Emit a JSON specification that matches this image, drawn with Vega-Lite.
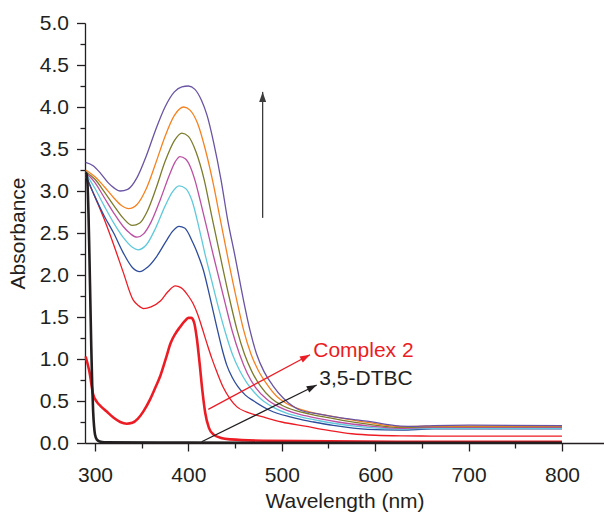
{
"$schema": "https://vega.github.io/schema/vega-lite/v6.json",
"width": 519, "height": 420,
"autosize": {"type": "none"},
"padding": {"left": 85, "top": 23, "right": 0, "bottom": 70},
"background": "white",
"config": {"view": {"stroke": null}, "font": "Liberation Sans",
 "axis": {"grid": false, "domainColor": "#231f20", "tickColor": "#231f20", "labelColor": "#231f20", "titleColor": "#231f20", "labelFont": "Liberation Sans", "titleFont": "Liberation Sans", "labelFontSize": 21, "titleFontSize": 21, "titleFontWeight": "normal", "domainWidth": 1.3, "tickWidth": 1.3, "labelOverlap": false, "labelFlush": false}},
"datasets": {
"thin": [
{"s":"R1","x":290,"y":3.17},{"s":"R1","x":300,"y":2.93},{"s":"R1","x":310,"y":2.66},{"s":"R1","x":320,"y":2.36},{"s":"R1","x":330,"y":2.04},{"s":"R1","x":341,"y":1.70},{"s":"R1","x":346,"y":1.64},{"s":"R1","x":352,"y":1.60},{"s":"R1","x":360,"y":1.62},{"s":"R1","x":370,"y":1.69},{"s":"R1","x":378,"y":1.80},{"s":"R1","x":386,"y":1.87},{"s":"R1","x":392,"y":1.85},{"s":"R1","x":400,"y":1.75},{"s":"R1","x":405,"y":1.66},{"s":"R1","x":410,"y":1.53},{"s":"R1","x":415,"y":1.36},{"s":"R1","x":420,"y":1.18},{"s":"R1","x":425,"y":1.01},{"s":"R1","x":430,"y":0.86},{"s":"R1","x":437,"y":0.67},{"s":"R1","x":445,"y":0.52},{"s":"R1","x":452,"y":0.43},{"s":"R1","x":462,"y":0.37},{"s":"R1","x":480,"y":0.31},{"s":"R1","x":500,"y":0.25},{"s":"R1","x":525,"y":0.20},{"s":"R1","x":550,"y":0.15},{"s":"R1","x":575,"y":0.11},{"s":"R1","x":600,"y":0.092},{"s":"R1","x":630,"y":0.085},{"s":"R1","x":660,"y":0.083},{"s":"R1","x":800,"y":0.083},
{"s":"B","x":290,"y":3.20},{"s":"B","x":300,"y":2.93},{"s":"B","x":310,"y":2.70},{"s":"B","x":320,"y":2.50},{"s":"B","x":330,"y":2.27},{"s":"B","x":340,"y":2.09},{"s":"B","x":348,"y":2.04},{"s":"B","x":356,"y":2.09},{"s":"B","x":366,"y":2.22},{"s":"B","x":376,"y":2.40},{"s":"B","x":383,"y":2.52},{"s":"B","x":390,"y":2.58},{"s":"B","x":396,"y":2.56},{"s":"B","x":405,"y":2.38},{"s":"B","x":410,"y":2.25},{"s":"B","x":416,"y":2.06},{"s":"B","x":423,"y":1.74},{"s":"B","x":430,"y":1.40},{"s":"B","x":437,"y":1.08},{"s":"B","x":441,"y":0.93},{"s":"B","x":447,"y":0.78},{"s":"B","x":453,"y":0.67},{"s":"B","x":461,"y":0.57},{"s":"B","x":470,"y":0.50},{"s":"B","x":487,"y":0.39},{"s":"B","x":509,"y":0.31},{"s":"B","x":520,"y":0.28},{"s":"B","x":534,"y":0.25},{"s":"B","x":555,"y":0.21},{"s":"B","x":592,"y":0.163},{"s":"B","x":627,"y":0.155},{"s":"B","x":662,"y":0.167},{"s":"B","x":800,"y":0.167},
{"s":"C","x":290,"y":3.21},{"s":"C","x":300,"y":3.03},{"s":"C","x":310,"y":2.82},{"s":"C","x":320,"y":2.62},{"s":"C","x":330,"y":2.45},{"s":"C","x":340,"y":2.33},{"s":"C","x":346,"y":2.30},{"s":"C","x":355,"y":2.36},{"s":"C","x":365,"y":2.56},{"s":"C","x":375,"y":2.82},{"s":"C","x":383,"y":2.99},{"s":"C","x":390,"y":3.06},{"s":"C","x":397,"y":3.03},{"s":"C","x":404,"y":2.88},{"s":"C","x":411,"y":2.58},{"s":"C","x":418,"y":2.24},{"s":"C","x":425,"y":1.93},{"s":"C","x":432,"y":1.62},{"s":"C","x":440,"y":1.30},{"s":"C","x":447,"y":1.06},{"s":"C","x":455,"y":0.86},{"s":"C","x":463,"y":0.71},{"s":"C","x":470,"y":0.61},{"s":"C","x":478,"y":0.52},{"s":"C","x":490,"y":0.43},{"s":"C","x":505,"y":0.355},{"s":"C","x":520,"y":0.31},{"s":"C","x":540,"y":0.265},{"s":"C","x":555,"y":0.235},{"s":"C","x":592,"y":0.185},{"s":"C","x":627,"y":0.165},{"s":"C","x":662,"y":0.175},{"s":"C","x":800,"y":0.175},
{"s":"M","x":290,"y":3.22},{"s":"M","x":300,"y":3.10},{"s":"M","x":310,"y":2.92},{"s":"M","x":320,"y":2.74},{"s":"M","x":330,"y":2.58},{"s":"M","x":338,"y":2.49},{"s":"M","x":345,"y":2.45},{"s":"M","x":352,"y":2.49},{"s":"M","x":360,"y":2.63},{"s":"M","x":370,"y":2.90},{"s":"M","x":380,"y":3.20},{"s":"M","x":386,"y":3.35},{"s":"M","x":391,"y":3.41},{"s":"M","x":397,"y":3.38},{"s":"M","x":402,"y":3.29},{"s":"M","x":407,"y":3.13},{"s":"M","x":413,"y":2.87},{"s":"M","x":420,"y":2.55},{"s":"M","x":427,"y":2.22},{"s":"M","x":433,"y":1.95},{"s":"M","x":439,"y":1.68},{"s":"M","x":447,"y":1.33},{"s":"M","x":455,"y":1.05},{"s":"M","x":463,"y":0.83},{"s":"M","x":472,"y":0.66},{"s":"M","x":484,"y":0.52},{"s":"M","x":497,"y":0.43},{"s":"M","x":510,"y":0.37},{"s":"M","x":525,"y":0.325},{"s":"M","x":540,"y":0.29},{"s":"M","x":560,"y":0.25},{"s":"M","x":592,"y":0.205},{"s":"M","x":627,"y":0.175},{"s":"M","x":662,"y":0.185},{"s":"M","x":800,"y":0.185},
{"s":"O","x":290,"y":3.23},{"s":"O","x":300,"y":3.14},{"s":"O","x":310,"y":2.99},{"s":"O","x":320,"y":2.83},{"s":"O","x":330,"y":2.68},{"s":"O","x":340,"y":2.59},{"s":"O","x":348,"y":2.62},{"s":"O","x":356,"y":2.76},{"s":"O","x":365,"y":3.02},{"s":"O","x":375,"y":3.35},{"s":"O","x":385,"y":3.60},{"s":"O","x":393,"y":3.69},{"s":"O","x":400,"y":3.65},{"s":"O","x":408,"y":3.47},{"s":"O","x":417,"y":3.13},{"s":"O","x":425,"y":2.70},{"s":"O","x":434,"y":2.23},{"s":"O","x":444,"y":1.72},{"s":"O","x":452,"y":1.35},{"s":"O","x":460,"y":1.06},{"s":"O","x":468,"y":0.85},{"s":"O","x":477,"y":0.68},{"s":"O","x":489,"y":0.53},{"s":"O","x":500,"y":0.45},{"s":"O","x":515,"y":0.385},{"s":"O","x":530,"y":0.345},{"s":"O","x":545,"y":0.31},{"s":"O","x":565,"y":0.27},{"s":"O","x":592,"y":0.225},{"s":"O","x":627,"y":0.185},{"s":"O","x":662,"y":0.195},{"s":"O","x":800,"y":0.195},
{"s":"Or","x":290,"y":3.25},{"s":"Or","x":300,"y":3.17},{"s":"Or","x":310,"y":3.05},{"s":"Or","x":320,"y":2.92},{"s":"Or","x":328,"y":2.83},{"s":"Or","x":336,"y":2.79},{"s":"Or","x":345,"y":2.84},{"s":"Or","x":355,"y":3.03},{"s":"Or","x":365,"y":3.33},{"s":"Or","x":375,"y":3.65},{"s":"Or","x":385,"y":3.90},{"s":"Or","x":395,"y":4.00},{"s":"Or","x":402,"y":3.96},{"s":"Or","x":410,"y":3.80},{"s":"Or","x":418,"y":3.50},{"s":"Or","x":426,"y":3.12},{"s":"Or","x":434,"y":2.67},{"s":"Or","x":442,"y":2.22},{"s":"Or","x":452,"y":1.69},{"s":"Or","x":459,"y":1.35},{"s":"Or","x":467,"y":1.06},{"s":"Or","x":475,"y":0.86},{"s":"Or","x":484,"y":0.70},{"s":"Or","x":495,"y":0.55},{"s":"Or","x":505,"y":0.47},{"s":"Or","x":520,"y":0.40},{"s":"Or","x":535,"y":0.355},{"s":"Or","x":550,"y":0.325},{"s":"Or","x":570,"y":0.285},{"s":"Or","x":592,"y":0.245},{"s":"Or","x":627,"y":0.195},{"s":"Or","x":662,"y":0.20},{"s":"Or","x":800,"y":0.20},
{"s":"P","x":290,"y":3.34},{"s":"P","x":298,"y":3.30},{"s":"P","x":306,"y":3.21},{"s":"P","x":314,"y":3.10},{"s":"P","x":320,"y":3.04},{"s":"P","x":327,"y":3.00},{"s":"P","x":335,"y":3.02},{"s":"P","x":345,"y":3.16},{"s":"P","x":355,"y":3.42},{"s":"P","x":365,"y":3.73},{"s":"P","x":375,"y":4.00},{"s":"P","x":385,"y":4.18},{"s":"P","x":393,"y":4.24},{"s":"P","x":400,"y":4.25},{"s":"P","x":407,"y":4.21},{"s":"P","x":414,"y":4.08},{"s":"P","x":420,"y":3.90},{"s":"P","x":427,"y":3.58},{"s":"P","x":435,"y":3.13},{"s":"P","x":442,"y":2.66},{"s":"P","x":450,"y":2.22},{"s":"P","x":459,"y":1.70},{"s":"P","x":466,"y":1.34},{"s":"P","x":473,"y":1.06},{"s":"P","x":481,"y":0.85},{"s":"P","x":490,"y":0.69},{"s":"P","x":502,"y":0.53},{"s":"P","x":520,"y":0.39},{"s":"P","x":540,"y":0.345},{"s":"P","x":560,"y":0.305},{"s":"P","x":580,"y":0.275},{"s":"P","x":595,"y":0.255},{"s":"P","x":610,"y":0.225},{"s":"P","x":627,"y":0.20},{"s":"P","x":645,"y":0.198},{"s":"P","x":662,"y":0.208},{"s":"P","x":700,"y":0.212},{"s":"P","x":800,"y":0.208}
],
"thick": [
{"s":"CX","x":290,"y":1.03},{"s":"CX","x":294,"y":0.85},{"s":"CX","x":298,"y":0.58},{"s":"CX","x":302,"y":0.49},{"s":"CX","x":306,"y":0.44},{"s":"CX","x":312,"y":0.38},{"s":"CX","x":320,"y":0.30},{"s":"CX","x":327,"y":0.25},{"s":"CX","x":334,"y":0.23},{"s":"CX","x":340,"y":0.24},{"s":"CX","x":346,"y":0.29},{"s":"CX","x":352,"y":0.38},{"s":"CX","x":359,"y":0.52},{"s":"CX","x":365,"y":0.67},{"s":"CX","x":370,"y":0.80},{"s":"CX","x":376,"y":1.01},{"s":"CX","x":381,"y":1.19},{"s":"CX","x":386,"y":1.30},{"s":"CX","x":391,"y":1.38},{"s":"CX","x":396,"y":1.45},{"s":"CX","x":400,"y":1.49},{"s":"CX","x":403,"y":1.49},{"s":"CX","x":406,"y":1.44},{"s":"CX","x":409,"y":1.25},{"s":"CX","x":412,"y":0.95},{"s":"CX","x":415,"y":0.62},{"s":"CX","x":418,"y":0.36},{"s":"CX","x":422,"y":0.18},{"s":"CX","x":427,"y":0.10},{"s":"CX","x":435,"y":0.06},{"s":"CX","x":445,"y":0.043},{"s":"CX","x":480,"y":0.027},{"s":"CX","x":550,"y":0.02},{"s":"CX","x":650,"y":0.015},{"s":"CX","x":800,"y":0.015},
{"s":"DT","x":290,"y":3.22},{"s":"DT","x":291,"y":3.2},{"s":"DT","x":292,"y":3.08},{"s":"DT","x":293,"y":2.75},{"s":"DT","x":294,"y":2.25},{"s":"DT","x":295,"y":1.7},{"s":"DT","x":296,"y":1.15},{"s":"DT","x":297,"y":0.7},{"s":"DT","x":298,"y":0.38},{"s":"DT","x":299,"y":0.2},{"s":"DT","x":300,"y":0.1},{"s":"DT","x":302,"y":0.04},{"s":"DT","x":305,"y":0.018},{"s":"DT","x":310,"y":0.008},{"s":"DT","x":400,"y":0.004},{"s":"DT","x":800,"y":0.003}
],
"arrows": [
{"k":"up","x":479.5,"y":2.68,"x2":479.5,"y2":4.18},
{"k":"cx","x":421.3,"y":0.40,"x2":530.2,"y2":1.05},
{"k":"dt","x":414.2,"y":0.015,"x2":537.4,"y2":0.69}
],
"labels": [
{"k":"cx","x":533.7,"y":1.02,"label":"Complex 2"},
{"k":"dt","x":540.2,"y":0.69,"label":"3,5-DTBC"}
]
},
"layer": [
{"data": {"name": "arrows"},
 "mark": {"type": "point", "opacity": 0},
 "encoding": {
  "x": {"field": "x", "type": "quantitative", "scale": {"domain": [289.3, 845], "nice": false, "zero": false},
   "axis": {"orient": "bottom", "values": [350,450,550,650,750], "labels": false, "domain": false, "ticks": true, "tickSize": 5, "tickColor": "#231f20", "tickWidth": 1.3, "title": null}},
  "y": {"field": "y", "type": "quantitative", "scale": {"domain": [0, 5], "nice": false, "zero": false},
   "axis": {"orient": "left", "values": [0.25,0.75,1.25,1.75,2.25,2.75,3.25,3.75,4.25,4.75], "labels": false, "domain": false, "ticks": true, "tickSize": 5, "tickColor": "#231f20", "tickWidth": 1.3, "title": null}}
 }},
{"data": {"name": "thin"},
 "mark": {"type": "line", "interpolate": "monotone", "strokeWidth": 1.3},
 "encoding": {
  "x": {"field": "x", "type": "quantitative", "scale": {"domain": [289.3, 845], "nice": false, "zero": false},
   "axis": {"orient": "bottom", "values": [300,400,500,600,700,800], "format": "d", "tickSize": 8, "labelPadding": 30, "labelBaseline": "alphabetic", "title": "Wavelength (nm)", "titleY": 64, "titleBaseline": "alphabetic"}},
  "y": {"field": "y", "type": "quantitative", "scale": {"domain": [0, 5], "nice": false, "zero": false},
   "axis": {"orient": "left", "values": [0,0.5,1,1.5,2,2.5,3,3.5,4,4.5,5], "format": ".1f", "tickSize": 8.5, "labelPadding": 8, "title": "Absorbance", "titleX": -61, "titleBaseline": "alphabetic"}},
  "color": {"field": "s", "type": "nominal", "legend": null,
   "scale": {"domain": ["R1","B","C","M","O","Or","P","CX","DT"], "range": ["#ec1c24","#2d4c9b","#5fc9dc","#bb4fa3","#7b7c2c","#f5821f","#6953a3","#ec1c24","#231f20"]}}
 }},
{"data": {"name": "thick"},
 "mark": {"type": "line", "interpolate": "monotone", "strokeWidth": 2.6},
 "encoding": {
  "x": {"field": "x", "type": "quantitative", "scale": {"domain": [289.3, 845], "nice": false, "zero": false}, "axis": null},
  "y": {"field": "y", "type": "quantitative", "scale": {"domain": [0, 5], "nice": false, "zero": false}, "axis": null},
  "color": {"field": "s", "type": "nominal", "legend": null,
   "scale": {"domain": ["R1","B","C","M","O","Or","P","CX","DT"], "range": ["#ec1c24","#2d4c9b","#5fc9dc","#bb4fa3","#7b7c2c","#f5821f","#6953a3","#ec1c24","#231f20"]}}
 }},
{"data": {"name": "arrows"},
 "mark": {"type": "rule", "strokeWidth": 1.3},
 "encoding": {
  "x": {"field": "x", "type": "quantitative", "scale": {"domain": [289.3, 845], "nice": false, "zero": false}, "axis": null},
  "y": {"field": "y", "type": "quantitative", "scale": {"domain": [0, 5], "nice": false, "zero": false}, "axis": null},
  "x2": {"field": "x2"}, "y2": {"field": "y2"},
  "color": {"condition": [{"test": "datum.k === 'cx'", "value": "#ec1c24"}, {"test": "datum.k === 'up'", "value": "#3c3c3c"}], "value": "#231f20"}
 }},
{"data": {"name": "arrows"},
 "transform": [{"filter": "datum.k === 'up'"}],
 "mark": {"type": "point", "shape": "M0,0L-0.35,1L0.35,1Z", "filled": true, "opacity": 1, "size": 400, "angle": 0, "color": "#3c3c3c"},
 "encoding": {
  "x": {"field": "x2", "type": "quantitative", "scale": {"domain": [289.3, 845], "nice": false, "zero": false}, "axis": null},
  "y": {"field": "y2", "type": "quantitative", "scale": {"domain": [0, 5], "nice": false, "zero": false}, "axis": null}
 }},
{"data": {"name": "arrows"},
 "transform": [{"filter": "datum.k === 'cx'"}],
 "mark": {"type": "point", "shape": "M0,0L-0.35,1L0.35,1Z", "filled": true, "opacity": 1, "size": 400, "angle": 62, "color": "#ec1c24"},
 "encoding": {
  "x": {"field": "x2", "type": "quantitative", "scale": {"domain": [289.3, 845], "nice": false, "zero": false}, "axis": null},
  "y": {"field": "y2", "type": "quantitative", "scale": {"domain": [0, 5], "nice": false, "zero": false}, "axis": null}
 }},
{"data": {"name": "arrows"},
 "transform": [{"filter": "datum.k === 'dt'"}],
 "mark": {"type": "point", "shape": "M0,0L-0.35,1L0.35,1Z", "filled": true, "opacity": 1, "size": 400, "angle": 64, "color": "#231f20"},
 "encoding": {
  "x": {"field": "x2", "type": "quantitative", "scale": {"domain": [289.3, 845], "nice": false, "zero": false}, "axis": null},
  "y": {"field": "y2", "type": "quantitative", "scale": {"domain": [0, 5], "nice": false, "zero": false}, "axis": null}
 }},
{"data": {"name": "labels"},
 "mark": {"type": "text", "align": "left", "baseline": "alphabetic", "fontSize": 21, "font": "Liberation Sans"},
 "encoding": {
  "x": {"field": "x", "type": "quantitative", "scale": {"domain": [289.3, 845], "nice": false, "zero": false}, "axis": null},
  "y": {"field": "y", "type": "quantitative", "scale": {"domain": [0, 5], "nice": false, "zero": false}, "axis": null},
  "text": {"field": "label"},
  "color": {"condition": {"test": "datum.k === 'cx'", "value": "#ec1c24"}, "value": "#231f20"}
 }}
],
"resolve": {"axis": {"x": "independent", "y": "independent"}}
}
